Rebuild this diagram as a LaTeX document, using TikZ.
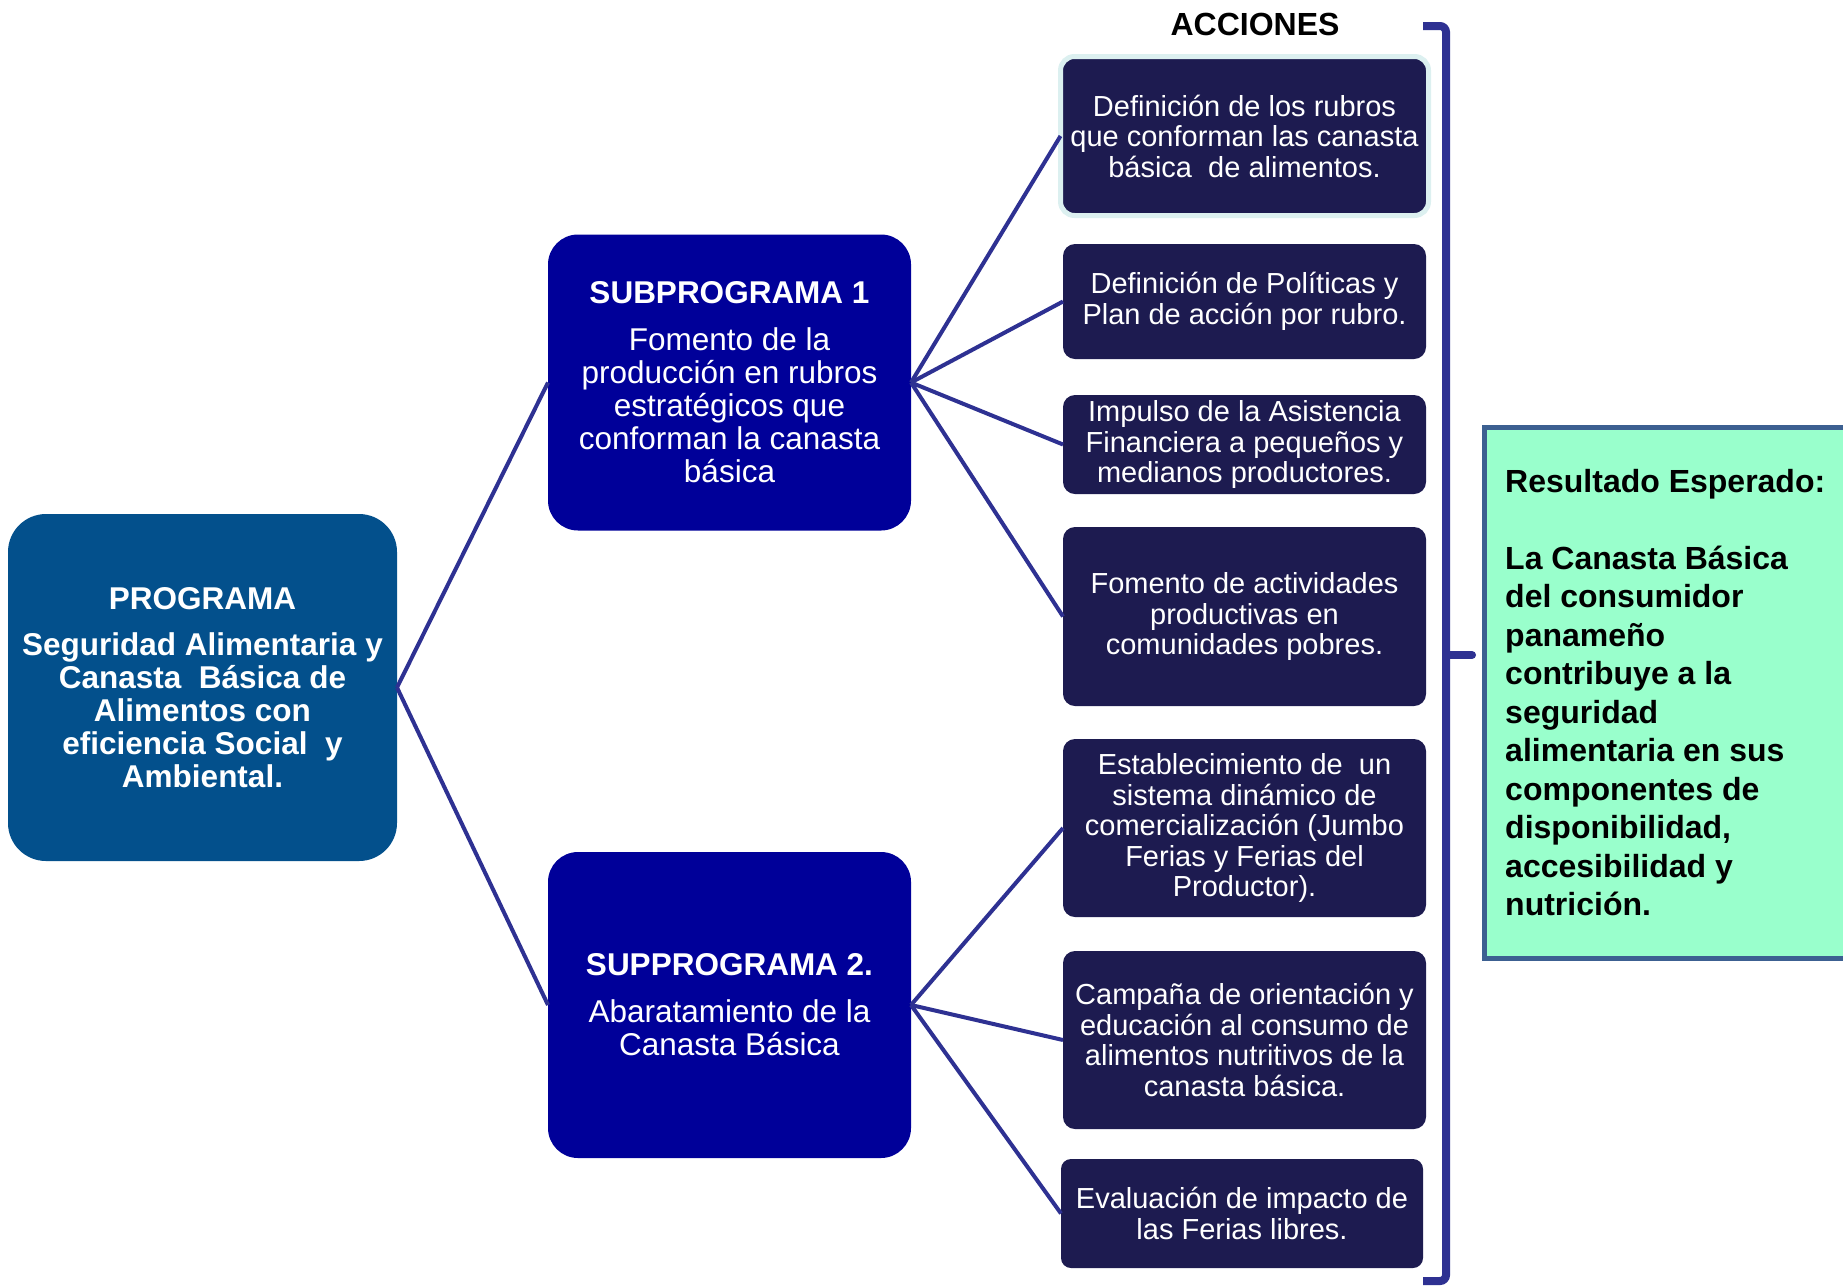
\documentclass[tikz,border=0pt]{standalone}
\usepackage{fontspec}
\setmainfont{Liberation Sans}
\definecolor{progblue}{RGB}{3,80,140}
\definecolor{subblue}{RGB}{0,0,153}
\definecolor{actnavy}{RGB}{29,27,80}
\definecolor{linkblue}{RGB}{46,49,146}
\definecolor{glowc}{RGB}{220,240,240}
\definecolor{resborder}{RGB}{60,96,145}
\definecolor{resgreen}{RGB}{153,255,204}
\tikzset{
  boxbase/.style={inner sep=0pt, outer sep=0pt, align=center, text=white},
  progbox/.style={boxbase, fill=progblue, rounded corners=38pt, minimum width=389pt, minimum height=347pt, font=\fontsize{31.5}{33}\selectfont\bfseries},
  subbox/.style={boxbase, fill=subblue, rounded corners=30pt, minimum width=363pt, minimum height=296pt, font=\fontsize{31.5}{33}\selectfont},
  actbox/.style={boxbase, fill=actnavy, rounded corners=12pt, minimum width=363pt, font=\fontsize{29}{30.5}\selectfont},
  link/.style={draw=linkblue, line width=4pt},
  bracketline/.style={draw=linkblue, line width=8pt},
  resbox/.style={draw=resborder, line width=5pt, fill=resgreen, inner sep=0pt, anchor=north west},
  restext/.style={anchor=north west, align=left, inner sep=0pt, font=\fontsize{32}{38.5}\selectfont\bfseries},
  headtext/.style={anchor=base, inner sep=0pt, font=\fontsize{32}{34}\selectfont\bfseries}
}
\begin{document}
\begin{tikzpicture}[x=1pt,y=-1pt]
\useasboundingbox (0,0) rectangle (1843,1286);
\fill[white] (0,0) rectangle (1843,1286);

% Result box (cut by the right edge)
\begin{scope}
\clip (0,0) rectangle (1843,1286);
\node[resbox, minimum width=420pt, minimum height=531pt] (res) at (1481.5,425) {};
\end{scope}
\node[restext] (restxt) at (1505,469) {Resultado Esperado:\\[38.5pt]La Canasta Básica\\del consumidor\\panameño\\contribuye a la\\seguridad\\alimentaria en sus\\componentes de\\disponibilidad,\\accesibilidad y\\nutrición.};

% Heading
\node[headtext] (acc) at (1255,35) {ACCIONES};

% Program
\node[progbox] (prog) at (202.5,687.5) {PROGRAMA\\[13pt]Seguridad Alimentaria y\\Canasta\ \ Básica de\\Alimentos con\\eficiencia Social\ \ y\\Ambiental.};

% Subprograms
\node[subbox] (sub1) at (729.5,382.5) {\textbf{SUBPROGRAMA 1}\\[14pt]Fomento de la\\producción en rubros\\estratégicos que\\conforman la canasta\\básica};
\node[subbox, minimum height=306pt] (sub2) at (729.5,1005) {\textbf{SUPPROGRAMA 2.}\\[14pt]Abaratamiento de la\\Canasta Básica};

% Actions
\node[actbox, draw=glowc, line width=5pt, minimum width=368pt, minimum height=159pt, rounded corners=14pt] (a1) at (1244.5,136) {Definición de los rubros\\que conforman las canasta\\básica\ \ de alimentos.};
\node[actbox, minimum height=115pt] (a2) at (1244.5,301.5) {Definición de Políticas y\\Plan de acción por rubro.};
\node[actbox, minimum height=99pt] (a3) at (1244.5,444.5) {Impulso de la Asistencia\\Financiera a pequeños y\\medianos productores.};
\node[actbox, minimum height=179pt] (a4) at (1244.5,616.5) {Fomento de actividades\\productivas en\\comunidades pobres.};
\node[actbox, minimum height=178pt] (a5) at (1244.5,828) {Establecimiento de\ \ un\\sistema dinámico de\\comercialización (Jumbo\\Ferias y Ferias del\\Productor).};
\node[actbox, minimum height=178pt] (a6) at (1244.5,1040) {Campaña de orientación y\\educación al consumo de\\alimentos nutritivos de la\\canasta básica.};
\node[actbox, minimum width=362pt, minimum height=109pt, rounded corners=10pt] (a7) at (1242,1213.5) {Evaluación de impacto de\\las Ferias libres.};

% Connectors
\draw[link] (prog.east) -- (sub1.west);
\draw[link] (prog.east) -- (sub2.west);
\foreach \t in {a1,a2,a3,a4}{\draw[link] (sub1.east) -- (\t.west);}
\foreach \t in {a5,a6,a7}{\draw[link] (sub2.east) -- (\t.west);}

% Bracket
\coordinate (brtop) at (1423,26);
\coordinate (brbot) at (1423,1281);
\coordinate (brmid) at (1446,655);
\coordinate (brtip) at (1472,655);
\draw[bracketline, rounded corners=6pt] (brtop) -- (1446,26) -- (1446,1281) -- (brbot);
\draw[bracketline, line cap=round] (brmid) -- (brtip);
\end{tikzpicture}
\end{document}
